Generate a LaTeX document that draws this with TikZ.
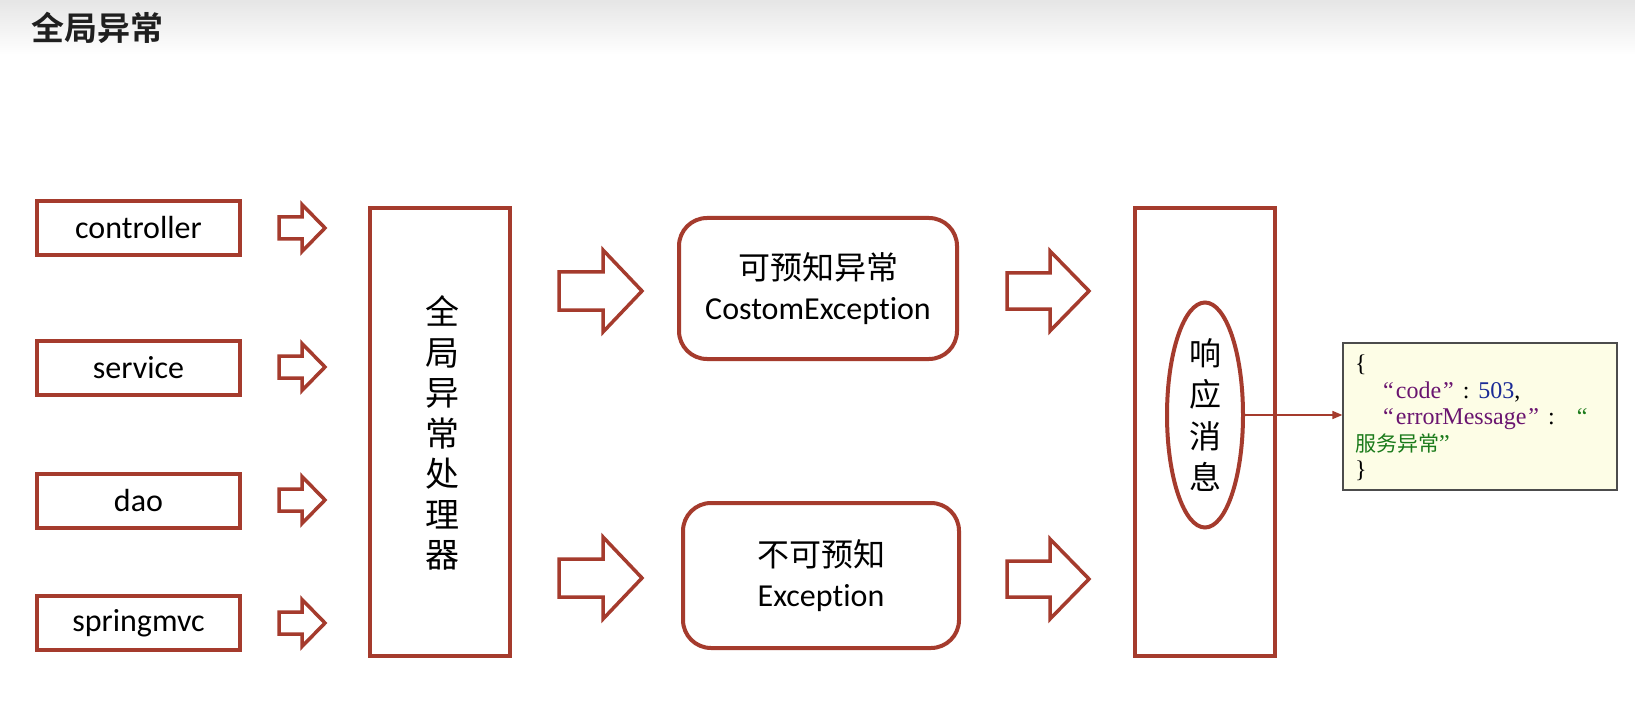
\documentclass[tikz,border=0pt]{standalone}
\usepackage{fontspec}
\setmainfont{Carlito}[RawFeature={-liga}]
\newfontfamily\cjk{Noto Sans CJK SC}
\newfontfamily\cjkb{Noto Sans CJK SC Bold}
\newfontfamily\jsonfont{Liberation Serif}
\usetikzlibrary{shapes.geometric,arrows.meta}
\definecolor{brd}{HTML}{A53B2D}
\definecolor{jfill}{HTML}{FDFDE6}
\definecolor{jpurple}{HTML}{6A1570}
\definecolor{jblue}{HTML}{1A2A96}
\definecolor{jgreen}{HTML}{1A7A1A}
\tikzset{
  srcbox/.style={draw=brd, line width=4pt, fill=white, minimum width=203pt, minimum height=54pt, inner sep=0pt, font=\fontsize{32pt}{38pt}\selectfont},
  tallbox/.style={draw=brd, line width=4pt, fill=white, minimum width=140pt, minimum height=448pt, inner sep=0pt},
  excbox/.style={draw=brd, line width=4pt, fill=white, rounded corners=28pt, inner sep=0pt, align=center, font=\fontsize{32pt}{40pt}\selectfont},
  blk/.style={draw=brd, line width=3.5pt, fill=white, line join=miter},
  conn/.style={draw=brd, line width=1.5pt, -{Triangle[length=10pt,width=8pt]}},
}
\newcommand\blockarrow[6]{%
  \path[blk] (#1,{#3-#4}) -- (#6,{#3-#4}) -- (#6,{#3-#5}) -- (#2,#3) -- (#6,{#3+#5}) -- (#6,{#3+#4}) -- (#1,{#3+#4}) -- cycle;}
\begin{document}
\begin{tikzpicture}[x=1pt,y=-1pt]
\useasboundingbox (0,0) rectangle (1635,727);
\fill[white] (0,0) rectangle (1635,727);
\shade[top color=black!10, bottom color=white] (0,0) rectangle (1635,55);
\node[anchor=west, text=black!88, font=\cjkb\fontsize{33pt}{36pt}\selectfont, inner sep=0pt] (title) at (31,28) {全局异常};

% source boxes
\node[srcbox] (ctrl) at (138.5,228) {controller};
\node[srcbox] (svc) at (138.5,368) {service};
\node[srcbox] (dao) at (138.5,501) {dao};
\node[srcbox] (mvc) at (138.5,623) {springmvc};

% small arrows
\blockarrow{279}{325}{228}{11}{23.5}{302}
\blockarrow{279}{325}{367}{11}{23.5}{302}
\blockarrow{279}{325}{500}{11}{23.5}{302}
\blockarrow{279}{325}{623}{11}{23.5}{302}

% handler
\node[tallbox] (handler) at (440,432) {};
\node[align=center, inner sep=0pt, font=\cjk\fontsize{34pt}{40.5pt}\selectfont] (htext) at (442,433) {全\\局\\异\\常\\处\\理\\器};

% medium arrows
\blockarrow{559}{642}{291}{19}{41}{603}
\blockarrow{559}{642}{578}{19}{41}{603}

% exception boxes
\node[excbox, minimum width=278pt, minimum height=141pt] (exc1) at (818,288.5) {{\cjk 可预知异常}\\CostomException};
\node[excbox, minimum width=276pt, minimum height=145pt] (exc2) at (821,575.5) {{\cjk 不可预知}\\Exception};

% right arrows
\blockarrow{1007}{1089}{291}{18}{40}{1050}
\blockarrow{1007}{1089}{579}{18}{40}{1050}

% response
\node[tallbox] (resp) at (1205,432) {};
\node[ellipse, draw=brd, line width=4pt, fill=white, minimum width=76pt, minimum height=225pt, inner sep=0pt, align=center, font=\cjk\fontsize{32pt}{41.5pt}\selectfont] (msg) at (1205,415) {响\\应\\消\\息};

% json
\node[draw=black!70, line width=1.2pt, fill=jfill, minimum width=274pt, minimum height=147pt, inner sep=0pt] (json) at (1480,416.5) {};
\node[anchor=north west, align=left, inner sep=0pt, font=\jsonfont\fontsize{24pt}{26.5pt}\selectfont] (jtext) at (1355,355)
{\{\\
\hspace*{28pt}{\color{jpurple}“\hspace{2pt}code\hspace{2pt}”}\hspace{9pt}:\hspace{9pt}{\color{jblue}503},\\
\hspace*{28pt}{\color{jpurple}“\hspace{2pt}errorMessage\hspace{2pt}”}\hspace{9pt}:\hspace{22pt}{\color{jgreen}“}\\
{\color{jgreen}\cjk\fontsize{21pt}{26.5pt}\selectfont 服务异常\jsonfont\fontsize{24pt}{26.5pt}\selectfont”}\\
\}};
\draw[conn] (msg.east) -- (msg.east -| json.west);
\end{tikzpicture}
\end{document}
